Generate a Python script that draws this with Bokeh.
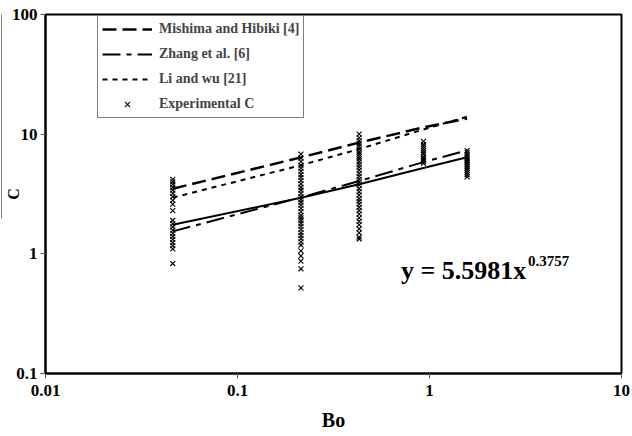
from bokeh.plotting import figure
from bokeh.models import (Legend, LegendItem, Label, FixedTicker, LogAxis,
                          CustomJSTickFormatter)
from bokeh.embed import file_html
from bokeh.resources import INLINE

# ---------------- data ----------------
bo_points = [0.046, 0.214, 0.43, 0.93, 1.57]
mishima_hibiki = [3.5, 6.4, 8.5, 11.4, 13.5]
zhang_et_al = [1.54, 2.96, 4.06, 5.84, 7.33]
li_and_wu = [2.95, 5.50, 7.51, 10.94, 14.0]
power_fit = [1.75, 2.94, 3.81, 5.22, 6.42]

exp_bo_col1 = [4.2, 4.0, 3.8, 3.6, 3.4, 3.2, 3.0, 2.8, 2.6, 2.3, 1.9, 1.78, 1.68,
               1.58, 1.48, 1.4, 1.32, 1.24, 1.17, 1.1, 0.83]
exp_bo_col2 = [6.8, 6.3, 5.9, 5.5, 5.2, 4.9, 4.6, 4.35, 4.1, 3.85, 3.6, 3.4, 3.2,
               3.0, 2.85, 2.7, 2.55, 2.4, 2.25, 2.1, 2.0, 1.9, 1.8, 1.7, 1.6, 1.5,
               1.42, 1.34, 1.26, 1.18, 1.06, 0.96, 0.87, 0.75, 0.52]
exp_bo_col3 = [10.0, 9.3, 8.8, 8.3, 7.9, 7.5, 7.1, 6.8, 6.5, 6.2, 5.9, 5.6, 5.3,
               5.0, 4.7, 4.45, 4.2, 4.0, 3.75, 3.5, 3.3, 3.1, 2.9, 2.75, 2.6, 2.45,
               2.3, 2.15, 2.0, 1.87, 1.75, 1.62, 1.5, 1.38, 1.33]
exp_bo_col4 = [8.7, 8.2, 7.9, 7.6, 7.3, 7.0, 6.8, 6.5, 6.3, 6.1, 5.9, 5.7]
exp_bo_col5 = [7.3, 7.0, 6.7, 6.4, 6.2, 6.0, 5.8, 5.6, 5.4, 5.2, 5.0, 4.8, 4.6, 4.4]

x_ticks = [0.01, 0.1, 1, 10]
y_ticks = [0.1, 1, 10, 100]
legend_labels = ["Mishima and Hibiki [4]", "Zhang et al. [6]", "Li and wu [21]",
                 "Experimental C"]
equation_main = "y = 5.5981x"
equation_exp = "0.3757"

# ---------------- figure ----------------
FONT = "Liberation Serif"

p = figure(width=632, height=436, x_axis_type="log", y_axis_type="log",
           x_range=(0.01, 10), y_range=(0.1, 100),
           output_backend="svg", toolbar_location=None,
           min_border_left=45, min_border_right=11, min_border_top=14,
           min_border_bottom=63)
p.xgrid.visible = False
p.ygrid.visible = False
p.outline_line_color = "black"
p.outline_line_width = 2
p.background_fill_color = "white"
p.border_fill_color = "white"

for ax, ticks in ((p.xaxis[0], x_ticks), (p.yaxis[0], y_ticks)):
    ax.ticker = FixedTicker(ticks=ticks)
    ax.formatter = CustomJSTickFormatter(code="return tick.toString();")
    ax.axis_line_color = "black"
    ax.axis_line_width = 2
    ax.major_tick_in = 0
    ax.major_tick_out = 5
    ax.major_tick_line_color = "#555555"
    ax.minor_tick_line_color = None
    ax.major_label_text_font = FONT
    ax.major_label_text_font_style = "bold"
    ax.major_label_text_font_size = "17px"
    ax.major_label_text_color = "black"
    ax.axis_label_text_font = FONT
    ax.axis_label_text_font_style = "bold"
    ax.axis_label_text_color = "black"

p.xaxis.axis_label = "Bo"
p.yaxis.axis_label = "C"
p.xaxis.axis_label_text_font_size = "20px"
p.yaxis.axis_label_text_font_size = "16px"
p.xaxis.major_label_standoff = 6
p.yaxis.major_label_standoff = 3
p.xaxis.axis_label_standoff = 10
p.yaxis.axis_label_standoff = -13

# long bar over the y-axis title (drawn as a bare axis line)
bar_axis = LogAxis(bounds=(1.96, 100), ticker=FixedTicker(ticks=[]),
                   axis_line_color="#808080", axis_line_width=1,
                   major_tick_line_color=None, minor_tick_line_color=None,
                   major_label_text_font_size="0px")
p.add_layout(bar_axis, "left")

# correlation lines
r_mh = p.line(bo_points, mishima_hibiki, line_color="black", line_width=2.5,
              line_dash="14 6")
r_zh = p.line(bo_points, zhang_et_al, line_color="black", line_width=2,
              line_dash="18 6 5 6")
r_li = p.line(bo_points, li_and_wu, line_color="black", line_width=2,
              line_dash="5 5")
p.line(bo_points, power_fit, line_color="black", line_width=2)

# experimental points
exp_x, exp_y = [], []
for bo, vals in zip(bo_points, [exp_bo_col1, exp_bo_col2, exp_bo_col3,
                                exp_bo_col4, exp_bo_col5]):
    exp_x += [bo] * len(vals)
    exp_y += vals
r_ex = p.scatter(exp_x, exp_y, marker="x", size=7, line_color="black",
                 line_width=1.1)

legend = Legend(items=[LegendItem(label=legend_labels[0], renderers=[r_mh]),
                       LegendItem(label=legend_labels[1], renderers=[r_zh]),
                       LegendItem(label=legend_labels[2], renderers=[r_li]),
                       LegendItem(label=legend_labels[3], renderers=[r_ex])],
                location=(52, 255))
legend.label_text_font = FONT
legend.label_text_font_style = "bold"
legend.label_text_font_size = "14px"
legend.glyph_width = 50
legend.glyph_height = 18
legend.label_height = 18
legend.spacing = 7
legend.padding = 4
legend.margin = 0
legend.label_standoff = 7
legend.border_line_color = "black"
legend.border_line_width = 1.5
legend.background_fill_alpha = 1.0
p.add_layout(legend, "center")

# equation
p.add_layout(Label(x=0.71, y=0.72, text=equation_main, text_font=FONT,
                   text_font_style="bold", text_font_size="26px",
                   text_baseline="middle", text_color="black"))
p.add_layout(Label(x=0.71, y=0.72, x_offset=127, y_offset=10, text=equation_exp,
                   text_font=FONT, text_font_style="bold",
                   text_font_size="15px", text_baseline="middle",
                   text_color="black"))

open("out.html", "w").write(file_html(p, INLINE))
